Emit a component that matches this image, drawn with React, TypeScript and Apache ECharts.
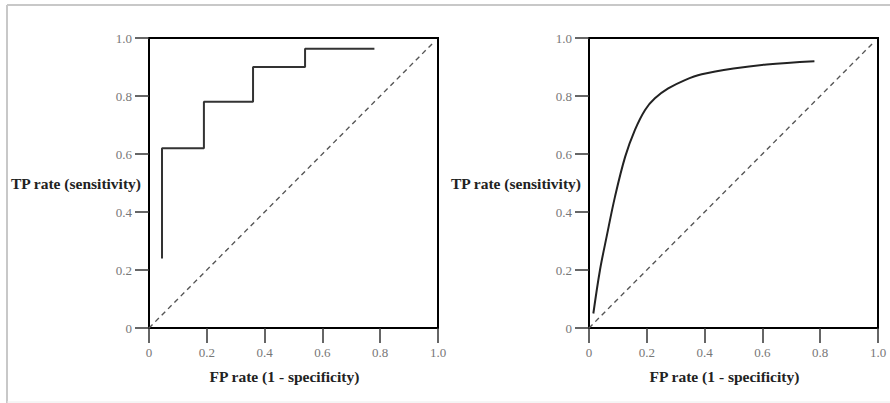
import React, { useEffect, useRef } from "react";
import * as echarts from "echarts";

// Tick labels
const tickValues = [0, 0.2, 0.4, 0.6, 0.8, 1.0];

// Left chart: empirical ROC step curve (corner points)
const stepFPR = [0.045, 0.045, 0.19, 0.19, 0.36, 0.36, 0.54, 0.54, 0.78];
const stepTPR = [0.24, 0.62, 0.62, 0.78, 0.78, 0.9, 0.9, 0.963, 0.963];

// Right chart: smooth ROC curve
const curveFPR = [0.015, 0.038, 0.061, 0.09, 0.125, 0.159, 0.194, 0.228, 0.274, 0.332, 0.39, 0.5, 0.615, 0.78];
const curveTPR = [0.05, 0.2, 0.315, 0.453, 0.59, 0.683, 0.752, 0.792, 0.826, 0.855, 0.875, 0.895, 0.909, 0.92];

// Chance diagonal
const diagFPR = [0, 0.98];
const diagTPR = [0, 0.98];

const xTitle = "FP rate (1 - specificity)";
const yTitle = "TP rate (sensitivity)";

const FONT = "Liberation Serif";

function fmt(v: number) {
  return v === 0 ? "0" : v.toFixed(1);
}

export default function App() {
  const ref = useRef<HTMLDivElement>(null);
  useEffect(() => {
    if (!ref.current) return;
    const chart = echarts.init(ref.current, undefined, { renderer: "svg" });
    const zip = (a: number[], b: number[]) => a.map((v, i) => [v, b[i]]);
    const mkX = (gi: number) => ({
      type: "value",
      gridIndex: gi,
      min: tickValues[0],
      max: tickValues[tickValues.length - 1],
      interval: 0.2,
      axisLine: { show: true, lineStyle: { color: "#000", width: 2 } },
      axisTick: { show: true, inside: false, length: 15, lineStyle: { color: "#333", width: 1.5 } },
      axisLabel: { margin: 18, fontFamily: FONT, fontSize: 13, color: "#777", formatter: fmt },
      splitLine: { show: false },
    });
    const mkY = (gi: number) => ({
      type: "value",
      gridIndex: gi,
      min: tickValues[0],
      max: tickValues[tickValues.length - 1],
      interval: 0.2,
      axisLine: { show: true, lineStyle: { color: "#000", width: 2 } },
      axisTick: { show: true, inside: false, length: 14, lineStyle: { color: "#333", width: 1.5 } },
      axisLabel: { margin: 17, fontFamily: FONT, fontSize: 13, color: "#777", formatter: fmt },
      splitLine: { show: false },
    });
    const diag = (gi: number) => ({
      type: "line",
      xAxisIndex: gi,
      yAxisIndex: gi,
      data: zip(diagFPR, diagTPR),
      showSymbol: false,
      lineStyle: { color: "#555", width: 1.4, type: [5, 4] },
      silent: true,
    });
    const titleStyle = {
      fontFamily: FONT,
      fontSize: 15.5,
      fontWeight: "bold",
      fill: "#222",
    };
    chart.setOption({
      animation: false,
      backgroundColor: "#fff",
      grid: [
        { left: 149, top: 38, width: 289, height: 290, show: true, borderColor: "#000", borderWidth: 2, backgroundColor: "transparent" },
        { left: 589, top: 38, width: 289, height: 290, show: true, borderColor: "#000", borderWidth: 2, backgroundColor: "transparent" },
      ],
      xAxis: [mkX(0), mkX(1)],
      yAxis: [mkY(0), mkY(1)],
      series: [
        diag(0),
        {
          type: "line",
          xAxisIndex: 0,
          yAxisIndex: 0,
          data: zip(stepFPR, stepTPR),
          showSymbol: false,
          lineStyle: { color: "#333", width: 2 },
        },
        diag(1),
        {
          type: "line",
          xAxisIndex: 1,
          yAxisIndex: 1,
          data: zip(curveFPR, curveTPR),
          showSymbol: false,
          smooth: 0.35,
          lineStyle: { color: "#222", width: 2 },
        },
      ],
      graphic: [
        { type: "line", shape: { x1: 7, y1: 5, x2: 890, y2: 5 }, style: { stroke: "#c8c8c8", lineWidth: 2 } },
        { type: "line", shape: { x1: 7, y1: 5, x2: 7, y2: 403 }, style: { stroke: "#c8c8c8", lineWidth: 2 } },
        { type: "line", shape: { x1: 7, y1: 402, x2: 890, y2: 402 }, style: { stroke: "#ececec", lineWidth: 1 } },
        { type: "text", x: 141, y: 183, style: { ...titleStyle, text: yTitle, align: "right", verticalAlign: "middle" } },
        { type: "text", x: 581, y: 183, style: { ...titleStyle, text: yTitle, align: "right", verticalAlign: "middle" } },
        { type: "text", x: 284.5, y: 376, style: { ...titleStyle, text: xTitle, align: "center", verticalAlign: "middle" } },
        { type: "text", x: 724.5, y: 376, style: { ...titleStyle, text: xTitle, align: "center", verticalAlign: "middle" } },
      ],
    });
    return () => chart.dispose();
  }, []);
  return (
    <div style={{ position: "absolute", left: 0, top: 0, width: 890, height: 403 }}>
      <div ref={ref} style={{ width: 890, height: 403 }} />
    </div>
  );
}
